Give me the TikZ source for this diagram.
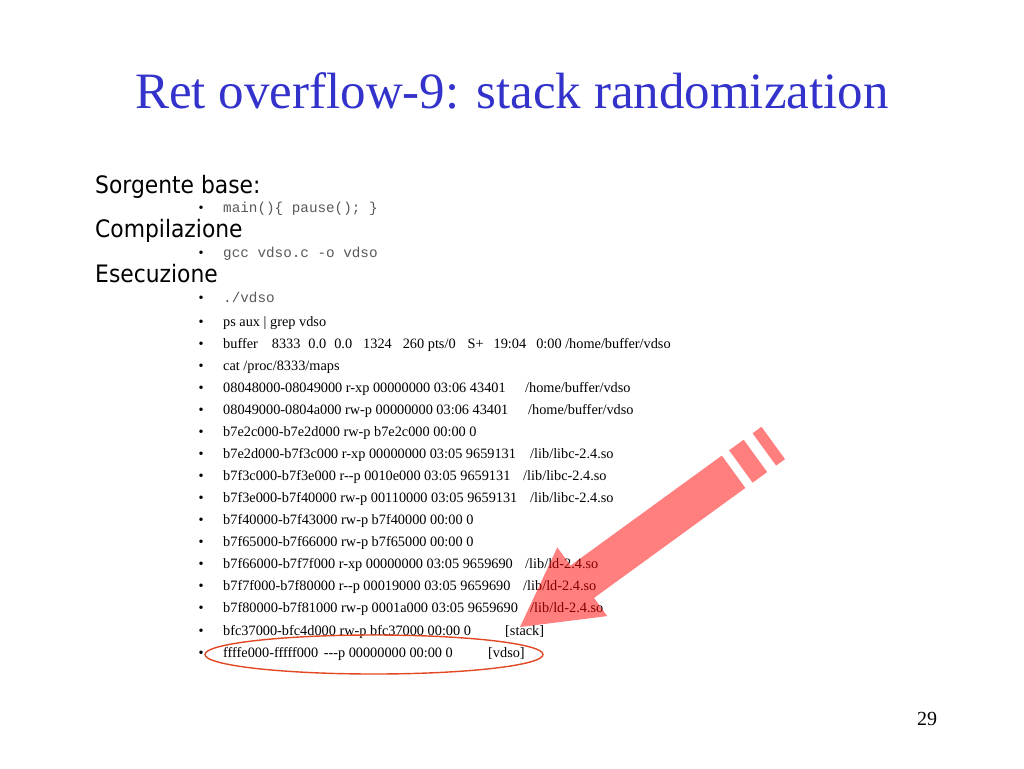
\documentclass[tikz,border=0pt]{standalone}
\usepackage{fontspec}
\setmainfont{Liberation Serif}
\setmonofont{Liberation Mono}
\newfontfamily\headfont{DejaVu Sans}[FakeStretch=0.91]
\usetikzlibrary{shapes.geometric}
\definecolor{titleblue}{RGB}{51,51,204}
\definecolor{ringred}{RGB}{226,72,36}
\tikzset{
    slide/.style={x=1pt,y=-1pt},
    title/.style={anchor=base,inner sep=0pt,text=titleblue,font=\fontsize{51}{60}\selectfont},
    head/.style={anchor=base west,inner sep=0pt,font=\headfont\fontsize{24}{28}\selectfont},
    code/.style={anchor=base west,inner sep=0pt,text=black!65,font=\ttfamily\fontsize{14.3}{17}\selectfont},
    item/.style={anchor=base west,inner sep=0pt,font=\fontsize{14.3}{17}\selectfont},
    dot/.style={anchor=base,inner sep=0pt,font=\fontsize{14.3}{17}\selectfont},
    ring/.style={draw=ringred,line width=1.4pt,ellipse,inner sep=0pt,minimum width=338pt,minimum height=39pt},
    stripe/.style={fill=red,fill opacity=0.5}
}

\begin{document}
\begin{tikzpicture}[slide]
    \path[fill=white,use as bounding box] (0,0) rectangle (1024,768);

    \node[title] (t) at (512,108) {Ret overflow-9: stack randomization};

    \node[head] (src) at (95,193) {Sorgente base:};
    \node[head] (comp) at (95,237.5) {Compilazione};
    \node[head] (exec) at (95,282) {Esecuzione};

    % bullets
    \foreach \y [count=\i] in {212,257,302,326,348.1,370.1,392.2,414.3,436.4,458.4,480.5,502.6,524.6,546.7,568.8,590.8,612.9,635,657.1}
        \node[dot] (b\i) at (201,\y) {\textbullet};

    \node[code] (c1) at (223,212) {main()\{ pause(); \}};
    \node[code] (c2) at (223,257) {gcc vdso.c -o vdso};
    \node[code] (c3) at (223,302) {./vdso};

    \node[item] (ps) at (223,326) {ps aux | grep vdso};
    \node[item] (buf) at (223,348.1) {buffer\hspace{14pt}8333\hspace{8pt}0.0\hspace{8pt}0.0\hspace{11pt}1324\hspace{11pt}260 pts/0\hspace{12pt}S+\hspace{10pt}19:04\hspace{10pt}0:00 /home/buffer/vdso};
    \node[item] (cat) at (223,370.1) {cat /proc/8333/maps};
    \node[item] (m1) at (223,392.2) {08048000-08049000 r-xp 00000000 03:06 43401};
    \node[item] (f1) at (525,392.2) {/home/buffer/vdso};
    \node[item] (m2) at (223,414.3) {08049000-0804a000 rw-p 00000000 03:06 43401};
    \node[item] (f2) at (528,414.3) {/home/buffer/vdso};
    \node[item] (m3) at (223,436.4) {b7e2c000-b7e2d000 rw-p b7e2c000 00:00 0};
    \node[item] (m4) at (223,458.4) {b7e2d000-b7f3c000 r-xp 00000000 03:05 9659131};
    \node[item] (f4) at (530,458.4) {/lib/libc-2.4.so};
    \node[item] (m5) at (223,480.5) {b7f3c000-b7f3e000 r-\kern0pt-p 0010e000 03:05 9659131};
    \node[item] (f5) at (523,480.5) {/lib/libc-2.4.so};
    \node[item] (m6) at (223,502.6) {b7f3e000-b7f40000 rw-p 00110000 03:05 9659131};
    \node[item] (f6) at (530,502.6) {/lib/libc-2.4.so};
    \node[item] (m7) at (223,524.6) {b7f40000-b7f43000 rw-p b7f40000 00:00 0};
    \node[item] (m8) at (223,546.7) {b7f65000-b7f66000 rw-p b7f65000 00:00 0};
    \node[item] (m9) at (223,568.8) {b7f66000-b7f7f000 r-xp 00000000 03:05 9659690};
    \node[item] (f9) at (525,568.8) {/lib/ld-2.4.so};
    \node[item] (m10) at (223,590.8) {b7f7f000-b7f80000 r-\kern0pt-p 00019000 03:05 9659690};
    \node[item] (f10) at (523,590.8) {/lib/ld-2.4.so};
    \node[item] (m11) at (223,612.9) {b7f80000-b7f81000 rw-p 0001a000 03:05 9659690};
    \node[item] (f11) at (530,612.9) {/lib/ld-2.4.so};
    \node[item] (m12) at (223,635) {bfc37000-bfc4d000 rw-p bfc37000 00:00 0};
    \node[item] (f12) at (505,635) {[stack]};
    \node[item] (m13) at (223,657.1) {ffffe000-fffff000\hspace{5.5pt}-\kern0pt-\kern0pt-p 00000000 00:00 0};
    \node[item] (f13) at (488,657.1) {[vdso]};

    \node[ring] (vd) at (374,654.5) {};

    % striped arrow
    \begin{scope}[shift={(520,627)},x={(0.809pt,0.588pt)},y={(0.588pt,-0.809pt)}]
        \fill[stripe] (0,0) -- (77,-42.5) -- (77,-20) -- (264,-20) -- (264,20) -- (77,20) -- (77,42.5) -- cycle;
        \fill[stripe] (273,-20) -- (291,-20) -- (291,20) -- (273,20) -- cycle;
        \fill[stripe] (302,-20) -- (313,-20) -- (313,20) -- (302,20) -- cycle;
    \end{scope}

    \node[item,font=\fontsize{20}{24}\selectfont] (pg) at (917,725) {29};
\end{tikzpicture}
\end{document}
